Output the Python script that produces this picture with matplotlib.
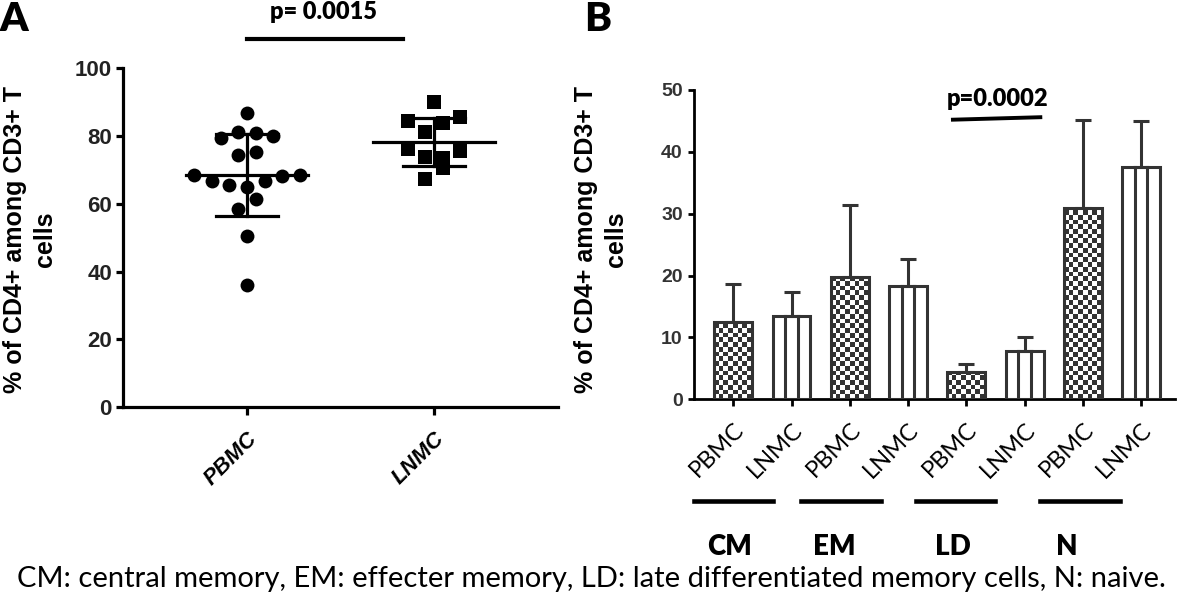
import numpy as np
import matplotlib.pyplot as plt
from matplotlib.colors import ListedColormap

# ---- data ----
# panel A: individual values, listed left-to-right inside each row of the swarm
pbmc_vals = [86.7, 79.5, 81.3, 80.8, 80.1, 74.4, 75.2,
             68.5, 66.8, 65.6, 64.9, 66.8, 68.2, 68.5,
             58.4, 61.4, 50.6, 36.1]
lnmc_vals = [89.9, 84.5, 81.3, 83.8, 85.7, 76.1, 73.7, 73.5, 75.7, 67.3, 70.7]
groups_a = ["PBMC", "LNMC"]
p_a = "p= 0.0015"

# panel B: mean and SD per subset
bar_labels = ["PBMC", "LNMC"] * 4
bar_means = [12.5, 13.5, 19.8, 18.3, 4.4, 7.8, 30.9, 37.6]
bar_sd = [6.1, 3.8, 11.6, 4.4, 1.3, 2.2, 14.2, 7.4]
subsets = ["CM", "EM", "LD", "N"]
p_b = "p=0.0002"
caption = "CM: central memory, EM: effecter memory, LD: late differentiated memory cells, N: naive."
ylab = "% of CD4+ among CD3+ T\ncells"

BOLD_SANS = "Liberation Sans"
CAL = "Lato"
DARK = "#333333"

fig = plt.figure(figsize=(11.82, 6.04), dpi=100)


def swarm_offsets(vals, row_h=4.5, step=0.094):
    # group close values into rows, spread each row symmetrically
    order = np.argsort(vals, kind="stable")
    rows, cur, start = [], [], None
    for i in order:
        if start is None or vals[i] - start > row_h:
            if cur:
                rows.append(cur)
            cur, start = [i], vals[i]
        else:
            cur.append(i)
    rows.append(cur)
    off = np.zeros(len(vals))
    for r in rows:
        r = sorted(r)
        n = len(r)
        for k, i in enumerate(r):
            off[i] = (k - (n - 1) / 2) * step
    return off


# ---------------- panel A ----------------
axA = fig.add_axes([0.1041, 0.3257, 0.368, 0.5613])
for pos, vals, mk, s in [(0, pbmc_vals, "o", 100), (1, lnmc_vals, "s", 95)]:
    vals = np.array(vals)
    axA.scatter(pos + swarm_offsets(vals), vals, marker=mk, s=s, color="black",
                linewidths=0, zorder=3)
    m, sd = vals.mean(), vals.std(ddof=1)
    axA.plot([pos - 0.326, pos + 0.326], [m, m], color="black", lw=2.3, zorder=4)
    axA.plot([pos, pos], [m - sd, m + sd], color="black", lw=2.3, zorder=4)
    for y in (m - sd, m + sd):
        axA.plot([pos - 0.166, pos + 0.166], [y, y], color="black", lw=2.3, zorder=4)

axA.set_xlim(-0.663, 1.663)
axA.set_ylim(0, 100)
axA.set_yticks(np.arange(0, 101, 20))
axA.set_xticks([0, 1])
axA.set_xticklabels(groups_a, rotation=45, ha="right", va="top", rotation_mode="anchor",
                    fontfamily=BOLD_SANS, fontweight="bold", fontstyle="italic", fontsize=16)
for lab in axA.get_yticklabels():
    lab.set_fontfamily(BOLD_SANS)
    lab.set_fontweight("bold")
    lab.set_fontsize(16)
    lab.set_color("#222222")
for sp in ["top", "right"]:
    axA.spines[sp].set_visible(False)
for sp in ["left", "bottom"]:
    axA.spines[sp].set_linewidth(2.3)
axA.tick_params(axis="y", length=5, width=2.3, pad=3)
axA.tick_params(axis="x", length=6, width=2.3, pad=9)

axA.plot([0, 0.834], [108.6, 108.6], color="black", lw=3, clip_on=False)
axA.text(0.41, 116.5, p_a, ha="center", va="center", fontfamily=CAL, fontweight="heavy",
         fontsize=17, clip_on=False)

fig.text(30 / 1182, 1 - 239 / 604, ylab, rotation=90, ha="center", va="center",
         multialignment="center", fontfamily=BOLD_SANS, fontweight="bold",
         fontsize=18, linespacing=1.35)
fig.text(0.0, 1 - 1 / 604, "A", ha="left", va="top", fontfamily=CAL,
         fontweight="heavy", fontsize=29)

# ---------------- panel B ----------------
axB = fig.add_axes([0.5871, 0.3389, 0.4069, 0.5121])
x = np.arange(len(bar_means))
width = 0.65
lw_b = 2.2
axB.errorbar(x, bar_means, yerr=[np.zeros(len(x)), bar_sd], fmt="none", ecolor=DARK,
             elinewidth=lw_b, capsize=6, capthick=lw_b, zorder=1)
bars = axB.bar(x, bar_means, width=width, facecolor="none", edgecolor=DARK,
               linewidth=lw_b, zorder=3)

cmap = ListedColormap(["white", DARK])
cell_h = 0.76
for i, b in enumerate(bars):
    x0, w, h = b.get_x(), b.get_width(), b.get_height()
    if i % 2 == 0:
        # checkered fill
        ncol = 8
        nrow = int(np.ceil(h / cell_h))
        img = np.add.outer(np.arange(nrow), np.arange(ncol)) % 2
        im = axB.imshow(img, extent=[x0, x0 + w, 0, nrow * cell_h], origin="lower",
                        cmap=cmap, interpolation="nearest", aspect="auto", zorder=2)
        im.set_clip_path(b)
    else:
        # vertical stripes
        for f in (1 / 3, 2 / 3):
            axB.plot([x0 + f * w, x0 + f * w], [0, h], color=DARK, lw=lw_b, zorder=2)

axB.set_xlim(-0.675, 7.58)
axB.set_ylim(0, 50)
axB.set_yticks(np.arange(0, 51, 10))
axB.set_xticks(x)
axB.set_xticklabels(bar_labels, rotation=45, ha="right", va="top", rotation_mode="anchor",
                    fontfamily=CAL, fontsize=17)
for lab in axB.get_yticklabels():
    lab.set_fontfamily(BOLD_SANS)
    lab.set_fontweight("bold")
    lab.set_fontsize(14)
    lab.set_color(DARK)
for sp in ["top", "right"]:
    axB.spines[sp].set_visible(False)
for sp in ["left", "bottom"]:
    axB.spines[sp].set_linewidth(2.0)
axB.tick_params(axis="y", length=4, width=2.0, pad=4)
axB.tick_params(axis="x", length=5, width=2.0, pad=9)

axB.plot([3.77, 5.27], [45.2, 45.6], color="black", lw=2.8, clip_on=False)
axB.text(4.54, 48.6, p_b, ha="center", va="center", fontfamily=CAL, fontweight="heavy",
         fontsize=17, clip_on=False)

# subset brackets and names under the tick labels
line_centers = [0.0, 1.85, 3.82, 5.95]
name_centers = [-0.06, 1.73, 3.77, 5.73]
tr = axB.get_xaxis_transform()
for c, nc, name in zip(line_centers, name_centers, subsets):
    axB.plot([c - 0.68, c + 0.68], [-0.328, -0.328], color="black", lw=3.3,
             transform=tr, clip_on=False)
    axB.text(nc, -0.4775, name, transform=tr, ha="center", va="center",
             fontfamily=CAL, fontweight="heavy", fontsize=20)

fig.text(601 / 1182, 1 - 239 / 604, ylab, rotation=90, ha="center", va="center",
         multialignment="center", fontfamily=BOLD_SANS, fontweight="bold",
         fontsize=18, linespacing=1.35)
fig.text(584 / 1182, 1 - 1 / 604, "B", ha="left", va="top", fontfamily=CAL,
         fontweight="heavy", fontsize=29)

fig.text(0.5, 1 - 579 / 604, caption, ha="center", va="center", fontfamily=CAL,
         fontsize=21)

fig.savefig("out.png", dpi=100)
